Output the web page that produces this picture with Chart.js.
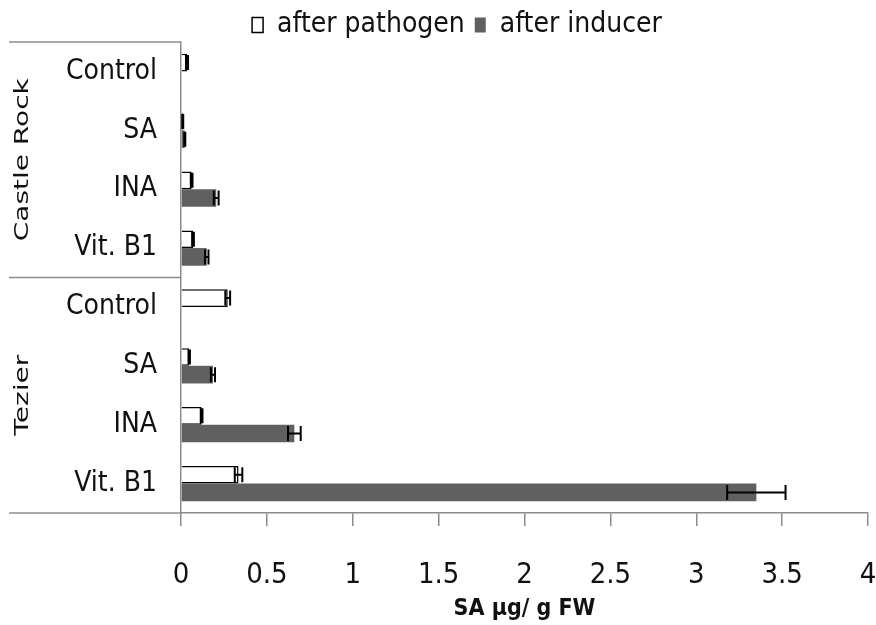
<!DOCTYPE html>
<html>
<head>
<meta charset="utf-8">
<script src="https://cdn.jsdelivr.net/npm/chart.js@4/dist/chart.umd.min.js"></script>
<style>
html,body{margin:0;padding:0;background:#fff;}
#wrap{width:876px;height:625px;}
</style>
</head>
<body>
<div id="wrap"><canvas id="c" width="876" height="625"></canvas></div>
<script>
// ---- data ----
const categories = ['Control', 'SA', 'INA', 'Vit. B1', 'Control', 'SA', 'INA', 'Vit. B1'];
const groups = ['Castle Rock', 'Tezier'];
const groupSizes = [4, 4];
const afterPathogen = [0.035, 0.01, 0.062, 0.07, 0.272, 0.048, 0.12, 0.335];
const afterPathogenErr = [0.006, 0.003, 0.005, 0.005, 0.014, 0.004, 0.005, 0.022];
const afterInducer = [0, 0.022, 0.205, 0.15, 0, 0.186, 0.66, 3.35];
const afterInducerErr = [0, 0.003, 0.014, 0.01, 0, 0.012, 0.037, 0.17];
const xTicks = [0, 0.5, 1, 1.5, 2, 2.5, 3, 3.5, 4];
const xTickLabels = ['0', '0.5', '1', '1.5', '2', '2.5', '3', '3.5', '4'];

const NARROW = "'Liberation Sans Narrow', 'DejaVu Sans Condensed', sans-serif";
const LINE = '#8c8c8c';
const LEFT_PAD = 38;

const errorBars = {
  id: 'errorBars',
  afterDatasetsDraw(chart) {
    const ctx = chart.ctx;
    const xs = chart.scales.x;
    chart.data.datasets.forEach((ds, di) => {
      const meta = chart.getDatasetMeta(di);
      const errs = ds.errors;
      if (!errs) return;
      meta.data.forEach((bar, i) => {
        const e = errs[i];
        if (!e) return;
        const v = ds.data[i];
        const lo = xs.getPixelForValue(v - e);
        const hi = xs.getPixelForValue(v + e);
        const y = bar.y;
        const h = bar.height * 0.85;
        ctx.save();
        ctx.strokeStyle = '#000';
        ctx.lineWidth = 2;
        ctx.beginPath();
        ctx.moveTo(lo, y); ctx.lineTo(hi, y);
        ctx.moveTo(lo, y - h / 2); ctx.lineTo(lo, y + h / 2);
        ctx.moveTo(hi, y - h / 2); ctx.lineTo(hi, y + h / 2);
        ctx.stroke();
        ctx.restore();
      });
    });
  }
};

const groupLabels = {
  id: 'groupLabels',
  afterDraw(chart) {
    const ctx = chart.ctx;
    const ys = chart.scales.y;
    const left = 9;
    const right = ys.right;
    const half = (ys.getPixelForValue(1) - ys.getPixelForValue(0)) / 2;
    ctx.save();
    ctx.strokeStyle = LINE;
    ctx.lineWidth = 1.5;
    let start = 0;
    const bounds = [ys.top];
    groupSizes.forEach((n) => {
      start += n;
      const yb = start >= categories.length ? ys.bottom : ys.getPixelForValue(start - 1) + half;
      bounds.push(yb);
    });
    bounds.forEach((yb) => {
      ctx.beginPath();
      ctx.moveTo(left, yb); ctx.lineTo(right, yb);
      ctx.stroke();
    });
    ctx.fillStyle = '#111';
    ctx.font = "20px 'DejaVu Sans', sans-serif";
    ctx.textAlign = 'center';
    ctx.textBaseline = 'middle';
    groups.forEach((g, gi) => {
      const yc = (bounds[gi] + bounds[gi + 1]) / 2;
      ctx.save();
      ctx.translate(23, yc);
      ctx.rotate(-Math.PI / 2);
      ctx.scale(1.4, 1);
      ctx.fillText(g, 0, 0);
      ctx.restore();
    });
    ctx.restore();
  }
};

new Chart(document.getElementById('c'), {
  type: 'bar',
  data: {
    labels: categories,
    datasets: [
      {
        label: 'after pathogen',
        data: afterPathogen,
        errors: afterPathogenErr,
        backgroundColor: '#ffffff',
        borderColor: '#000000',
        borderWidth: 1.5
      },
      {
        label: 'after inducer',
        data: afterInducer,
        errors: afterInducerErr,
        backgroundColor: '#606060',
        borderWidth: 0
      }
    ]
  },
  options: {
    indexAxis: 'y',
    responsive: false,
    animation: false,
    categoryPercentage: 0.6,
    barPercentage: 1,
    layout: { padding: { top: 1, right: 0, left: LEFT_PAD, bottom: 0 } },
    plugins: {
      tooltip: { enabled: false },
      legend: {
        position: 'top',
        maxHeight: 41,
        labels: {
          color: '#111',
          font: { family: NARROW, size: 28 },
          boxWidth: 11,
          boxHeight: 15,
          padding: 10
        }
      }
    },
    scales: {
      x: {
        min: 0, max: 4,
        afterBuildTicks(scale) { scale.ticks = xTicks.map(v => ({ value: v })); },
        afterFit(scale) { scale.height = 112; scale.paddingRight = 8; scale.paddingLeft = 0; },
        border: { display: true, color: LINE, width: 1.5 },
        grid: { display: true, drawOnChartArea: false, drawTicks: true, tickLength: 13, color: LINE, lineWidth: 1.5 },
        ticks: {
          color: '#111', font: { family: NARROW, size: 29 }, padding: 32, maxRotation: 0, autoSkip: false,
          callback(value, index) { return xTickLabels[index]; }
        },
        title: { display: true, text: 'SA µg/ g FW', color: '#111', font: { family: NARROW, size: 23, weight: 'bold' }, padding: { top: 0, bottom: 2 } }
      },
      y: {
        afterFit(scale) { scale.width = 181 - LEFT_PAD; },
        border: { display: true, color: LINE, width: 1.5 },
        grid: { display: false, drawTicks: false },
        ticks: { color: '#111', font: { family: NARROW, size: 28 }, padding: 24, autoSkip: false }
      }
    }
  },
  plugins: [errorBars, groupLabels]
});
</script>
</body>
</html>
